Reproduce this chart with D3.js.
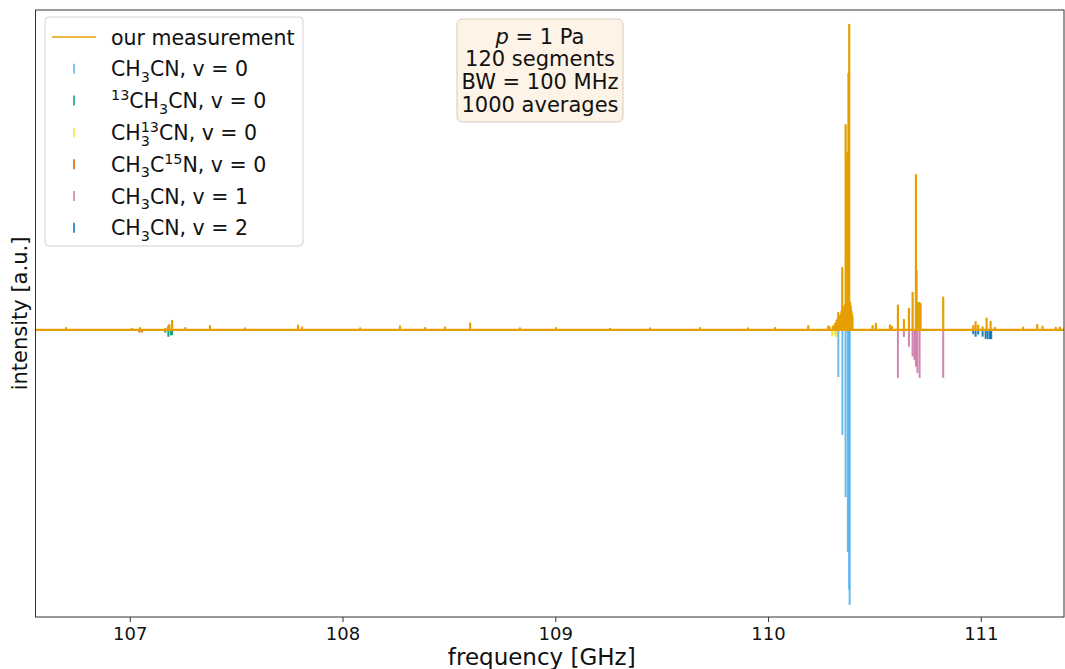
<!DOCTYPE html>
<html>
<head>
<meta charset="utf-8">
<script src="https://cdn.jsdelivr.net/npm/d3@7"></script>
<style>
  body { margin: 0; background: #fff; }
  svg { font-family: "DejaVu Sans", sans-serif; }
</style>
</head>
<body>
<svg id="chart" width="1065" height="669"></svg>
<script>
// x range and ticks [GHz]
const xDomain = [106.557, 111.391];
const xTicks = [107, 108, 109, 110, 111];
const yDomain = [-0.941, 1.049];

// measured spectrum, peak positions [GHz] and heights [a.u.]
const measPeaks = [
  [106.70, 0.006], [107.009, 0.004], [107.048, 0.006], [107.167, 0.004],
  [107.180, 0.011], [107.186, 0.016], [107.199, 0.03], [107.261, 0.006],
  [107.377, 0.013], [107.542, 0.005], [107.791, 0.014], [107.81, 0.008],
  [108.083, 0.005], [108.27, 0.012], [108.388, 0.006], [108.482, 0.008],
  [108.60, 0.022], [108.834, 0.005], [109.003, 0.006], [109.257, 0.004],
  [109.445, 0.005], [109.68, 0.006], [109.906, 0.005], [110.033, 0.006],
  [110.189, 0.013], [110.283, 0.012], [110.29, 0.008], [110.305, 0.012],
  [110.315, 0.02], [110.322, 0.03], [110.326, 0.035], [110.330, 0.056],
  [110.333, 0.03], [110.336, 0.035], [110.339, 0.045], [110.342, 0.05],
  [110.345, 0.06], [110.3487, 0.203], [110.352, 0.055], [110.355, 0.07],
  [110.358, 0.06], [110.361, 0.08], [110.3647, 0.672], [110.368, 0.09],
  [110.371, 0.07], [110.3731, 0.58], [110.378, 0.84], [110.3816, 1.0],
  [110.386, 0.09], [110.389, 0.075], [110.392, 0.06], [110.395, 0.05],
  [110.397, 0.04], [110.491, 0.013], [110.507, 0.02], [110.573, 0.015],
  [110.582, 0.01], [110.6104, 0.08], [110.6386, 0.033], [110.6621, 0.069],
  [110.6795, 0.122], [110.695, 0.508], [110.698, 0.193], [110.7077, 0.088],
  [110.7124, 0.088], [110.717, 0.085], [110.8233, 0.106], [110.9643, 0.013],
  [110.9756, 0.026], [110.9878, 0.014], [111.0085, 0.009], [111.0273, 0.037],
  [111.0461, 0.027], [111.0663, 0.007], [111.199, 0.008], [111.265, 0.016],
  [111.290, 0.011], [111.352, 0.007], [111.371, 0.008]
];

// catalogue sticks (plotted downwards)
const ch3cnV0 = [
  [110.3303, 0.154], [110.3495, 0.344], [110.3644, 0.548],
  [110.3750, 0.728], [110.3814, 0.852], [110.3835, 0.902]
];
const c13h3cnV0 = [[107.1673, 0.009], [107.1814, 0.022], [107.1927, 0.017], [107.1988, 0.017]];
const ch3c13nV0 = [[110.3008, 0.022], [110.3135, 0.016], [110.3195, 0.023]];
const ch3c15nV0 = [[107.045, 0.008], [107.058, 0.008]];
const ch3cnV1 = [
  [110.6104, 0.157], [110.6386, 0.023], [110.6621, 0.055], [110.6795, 0.087],
  [110.688, 0.098], [110.695, 0.12], [110.702, 0.141], [110.7124, 0.157],
  [110.8233, 0.157]
];
const ch3cnV2 = [
  [110.9643, 0.014], [110.9756, 0.022], [110.9878, 0.015], [111.0085, 0.022],
  [111.0226, 0.029], [111.0320, 0.030], [111.0428, 0.030], [111.0489, 0.030]
];

const catalogs = [
  { name: [{t: "CH"}, {sub: "3"}, {t: "CN, v = 0"}], color: "#56B4E9", data: ch3cnV0 },
  { name: [{sup: "13"}, {t: "CH"}, {sub: "3"}, {t: "CN, v = 0"}], color: "#009E73", data: c13h3cnV0 },
  { name: [{t: "CH"}, {sub: "3", sup: "13"}, {t: "CN, v = 0"}], color: "#F0E442", data: ch3c13nV0 },
  { name: [{t: "CH"}, {sub: "3"}, {t: "C"}, {sup: "15"}, {t: "N, v = 0"}], color: "#D55E00", data: ch3c15nV0 },
  { name: [{t: "CH"}, {sub: "3"}, {t: "CN, v = 1"}], color: "#CC79A7", data: ch3cnV1 },
  { name: [{t: "CH"}, {sub: "3"}, {t: "CN, v = 2"}], color: "#0072B2", data: ch3cnV2 }
];

const infoLines = ["= 1 Pa", "120 segments", "BW = 100 MHz", "1000 averages"];

const W = 1065, H = 669;
const m = { left: 35.5, right: 1064, top: 10, bottom: 617 };
const svg = d3.select("#chart");

const x = d3.scaleLinear().domain(xDomain).range([m.left, m.right]);
const y = d3.scaleLinear().domain(yDomain).range([m.bottom, m.top]);

svg.append("clipPath").attr("id", "clip").append("rect")
  .attr("x", m.left).attr("y", m.top).attr("width", m.right - m.left).attr("height", m.bottom - m.top);
const plot = svg.append("g").attr("clip-path", "url(#clip)");

// catalogue sticks
catalogs.forEach(c => {
  plot.selectAll(null).data(c.data).enter().append("line")
    .attr("x1", d => x(d[0])).attr("x2", d => x(d[0]))
    .attr("y1", y(0)).attr("y2", d => y(-d[1]))
    .attr("stroke", c.color).attr("stroke-width", 2).attr("stroke-opacity", 0.9);
});

// measured spectrum as line
const pts = [[xDomain[0], 0]];
measPeaks.slice().sort((a, b) => a[0] - b[0]).forEach(p => {
  pts.push([p[0], 0], p, [p[0], 0]);
});
pts.push([xDomain[1], 0]);
const line = d3.line().x(d => x(d[0])).y(d => y(d[1]));
plot.append("path").datum(pts).attr("d", line)
  .attr("fill", "none").attr("stroke", "#E69F00").attr("stroke-width", 2.2)
  .attr("stroke-linejoin", "round");

// axes
const xAxis = svg.append("g").attr("transform", `translate(0,${m.bottom})`)
  .call(d3.axisBottom(x).tickValues(xTicks).tickFormat(d3.format("d")).tickSize(5).tickPadding(5));
xAxis.select(".domain").remove();
xAxis.selectAll("line").attr("stroke", "#333");
xAxis.selectAll("text").attr("font-size", 18).attr("fill", "#111")
  .attr("font-family", "DejaVu Sans, sans-serif");

svg.append("rect").attr("x", m.left).attr("y", m.top)
  .attr("width", m.right - m.left).attr("height", m.bottom - m.top)
  .attr("fill", "none").attr("stroke", "#333").attr("stroke-width", 1);

svg.append("text").attr("x", (m.left + m.right) / 2 - 8).attr("y", 665)
  .attr("text-anchor", "middle").attr("font-size", 23).attr("fill", "#111")
  .text("frequency [GHz]");
svg.append("text").attr("transform", `translate(27,${(m.top + m.bottom) / 2}) rotate(-90)`)
  .attr("text-anchor", "middle").attr("font-size", 21).attr("fill", "#111")
  .text("intensity [a.u.]");

// rich text helper for sub/superscripts
function richText(g, x0, y0, parts, size) {
  let cx = x0;
  parts.forEach(p => {
    let w = 0;
    if (p.t) {
      const t = g.append("text").attr("x", cx).attr("y", y0).attr("font-size", size).text(p.t);
      w = t.node().getComputedTextLength();
    }
    if (p.sub) {
      const t = g.append("text").attr("x", cx).attr("y", y0 + size * 0.28)
        .attr("font-size", size * 0.7).text(p.sub);
      w = Math.max(w, t.node().getComputedTextLength());
    }
    if (p.sup) {
      const t = g.append("text").attr("x", cx).attr("y", y0 - size * 0.4)
        .attr("font-size", size * 0.7).text(p.sup);
      w = Math.max(w, t.node().getComputedTextLength());
    }
    cx += w;
  });
}

// legend
const fsL = 20.5;
const lg = svg.append("g");
lg.append("rect").attr("x", 45).attr("y", 17).attr("width", 258).attr("height", 229)
  .attr("rx", 4).attr("fill", "#fff").attr("fill-opacity", 0.85)
  .attr("stroke", "#d0d0d0").attr("stroke-width", 1);
const rowY = i => 37 + i * 31.8;
lg.append("line").attr("x1", 52).attr("x2", 96).attr("y1", rowY(0)).attr("y2", rowY(0))
  .attr("stroke", "#E69F00").attr("stroke-width", 1.7);
lg.append("text").attr("x", 111).attr("y", rowY(0) + 7.5).attr("font-size", fsL).attr("fill", "#111")
  .text("our measurement");
catalogs.forEach((c, i) => {
  const yy = rowY(i + 1);
  lg.append("line").attr("x1", 74).attr("x2", 74).attr("y1", yy - 5).attr("y2", yy + 5)
    .attr("stroke", c.color).attr("stroke-width", 2).attr("stroke-opacity", 0.75);
  const tg = lg.append("g").attr("fill", "#111");
  richText(tg, 111, yy + 7.5, c.name, fsL);
});

// info box
const ib = svg.append("g");
ib.append("rect").attr("x", 457).attr("y", 19).attr("width", 166).attr("height", 103)
  .attr("rx", 5).attr("fill", "#FDF3E6").attr("stroke", "#D9CBBE").attr("stroke-width", 1);
infoLines.forEach((s, i) => {
  const t = ib.append("text").attr("x", 540).attr("y", 43.5 + i * 22.7)
    .attr("text-anchor", "middle").attr("font-size", 21).attr("fill", "#111");
  if (i === 0) {
    t.append("tspan").attr("font-style", "italic").text("p");
    t.append("tspan").text(" " + s);
  } else {
    t.text(s);
  }
});
</script>
</body>
</html>
